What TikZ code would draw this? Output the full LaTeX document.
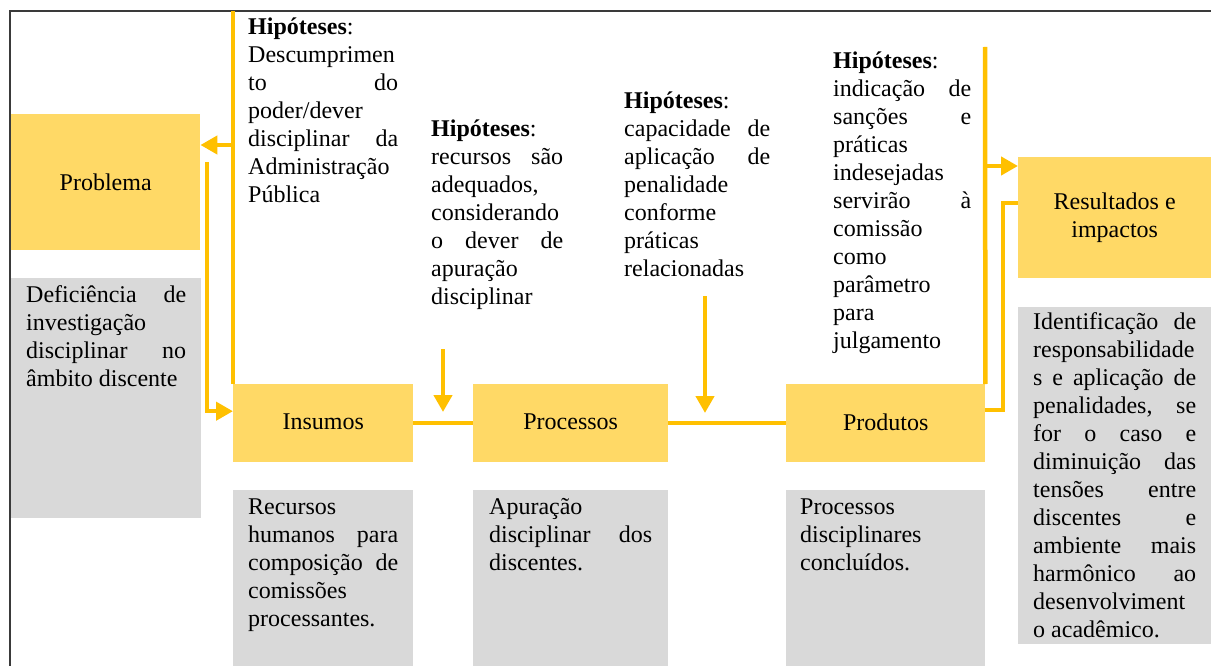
\documentclass[tikz,border=0pt]{standalone}
\usepackage{fontspec}
\setmainfont{Liberation Serif}
\usepackage{xcolor}
\usetikzlibrary{arrows.meta}

\definecolor{boxgold}{HTML}{FFD966}
\definecolor{linegold}{HTML}{FFC000}
\definecolor{boxgrey}{HTML}{D9D9D9}
\definecolor{framegrey}{HTML}{3A3A3A}

\tolerance=10000
\hbadness=10000

\begin{document}
\begin{tikzpicture}[x=1pt,y=-1pt,font=\fontsize{24}{28}\selectfont]
	\tikzset{yellow box/.style={fill=boxgold, inner sep=0pt, anchor=north west, align=center}}
	\tikzset{grey box/.style={fill=boxgrey, anchor=north west, inner ysep=0pt, align=justify, text height=24pt}}
	\tikzset{hyp text/.style={anchor=base west, inner sep=0pt, align=justify}}
	\tikzset{gold line/.style={draw=linegold, line width=4.5pt}}
	\tikzset{gold arrow/.style={gold line, -{Triangle[length=17pt,width=18pt]}}}

	\useasboundingbox (0,0) rectangle (1211,666);
	\fill[white] (0,0) rectangle (1211,666);
	\draw[framegrey, line width=1.4pt] (10,666) -- (10,11) -- (1211,11);

	% the five stages
	\node[yellow box, minimum width=189pt, minimum height=136pt] (problema) at (11,114) {Problema};
	\node[yellow box, minimum width=180pt, minimum height=78pt, text depth=3pt] (insumos) at (233,384) {Insumos};
	\node[yellow box, minimum width=195pt, minimum height=78pt, text depth=3pt] (processos) at (473,384) {Processos};
	\node[yellow box, minimum width=199pt, minimum height=78pt, text depth=3pt] (produtos) at (786,384) {Produtos};
	\node[yellow box, minimum width=193pt, minimum height=121pt] (resultados) at (1018,157) {Resultados e\\impactos};

	% descriptions
	\node[grey box, inner xsep=15pt, text width=160pt, text depth=216pt] (problemadesc) at (11,278)
		{Deficiência de\linebreak investigação\linebreak disciplinar no\linebreak âmbito discente};
	\node[grey box, inner xsep=15pt, text width=150pt, text depth=152pt] (insumosdesc) at (233,490)
		{Recursos\linebreak humanos para\linebreak composição de\linebreak comissões\linebreak processantes.};
	\node[grey box, inner xsep=16pt, text width=163pt, text depth=152pt] (processosdesc) at (473,490)
		{Apuração\linebreak disciplinar dos\linebreak discentes.};
	\node[grey box, inner xsep=14pt, text width=171pt, text depth=152pt] (produtosdesc) at (786,490)
		{Processos\linebreak disciplinares\linebreak concluídos.};
	\node[grey box, inner xsep=15pt, text width=163pt, text height=22pt, text depth=315pt] (resultadosdesc) at (1018,307)
		{Identificação de\linebreak responsabilidade\linebreak s e aplicação de\linebreak penalidades, se\linebreak for o caso e\linebreak diminuição das\linebreak tensões entre\linebreak discentes e\linebreak ambiente mais\linebreak harmônico ao\linebreak desenvolviment\linebreak o acadêmico.};

	% hypotheses
	\node[hyp text, text width=150pt] (hypinsumos) at (248,35)
		{\textbf{Hipóteses}:\linebreak Descumprimen\linebreak to do\linebreak poder/dever\linebreak disciplinar da\linebreak Administração\linebreak Pública};
	\node[hyp text, text width=132pt] (hypprocessos) at (431,137)
		{\textbf{Hipóteses}:\linebreak recursos são\linebreak adequados,\linebreak considerando\linebreak o dever de\linebreak apuração\linebreak disciplinar};
	\node[hyp text, text width=146pt] (hypprodutos) at (624,109)
		{\textbf{Hipóteses}:\linebreak capacidade de\linebreak aplicação de\linebreak penalidade\linebreak conforme\linebreak práticas\linebreak relacionadas};
	\node[hyp text, text width=138pt] (hypresultados) at (833,69)
		{\textbf{Hipóteses}:\linebreak indicação de\linebreak sanções e\linebreak práticas\linebreak indesejadas\linebreak servirão à\linebreak comissão\linebreak como\linebreak parâmetro\linebreak para\linebreak julgamento};

	% connectors
	\coordinate (inleft) at (233,11);
	\coordinate (backprob) at (233,145);
	\coordinate (probout) at (207,162);
	\coordinate (procin) at (443,349);
	\coordinate (procend) at (443,412);
	\coordinate (prodin) at (705,296);
	\coordinate (prodend) at (705,413);
	\coordinate (resin) at (985,47);
	\coordinate (resarrow) at (985,166);
	\coordinate (rescorner) at (1003,203);

	\draw[gold line] (inleft) -- (insumos.north west);
	\draw[gold arrow] (backprob) -- (backprob -| problema.east);
	\draw[gold arrow] (probout) |- ([yshift=12pt]insumos.west);
	\draw[gold arrow] (procin) -- (procend);
	\draw[gold line] (insumos.east) -- (processos.west);
	\draw[gold arrow] (prodin) -- (prodend);
	\draw[gold line] (processos.east) -- (produtos.west);
	\draw[gold line] (resin) -- (produtos.north east);
	\draw[gold arrow] (resarrow) -- (resarrow -| resultados.west);
	\draw[gold line] ([yshift=13pt]produtos.east) -| (rescorner) -- (rescorner -| resultados.west);
\end{tikzpicture}
\end{document}
